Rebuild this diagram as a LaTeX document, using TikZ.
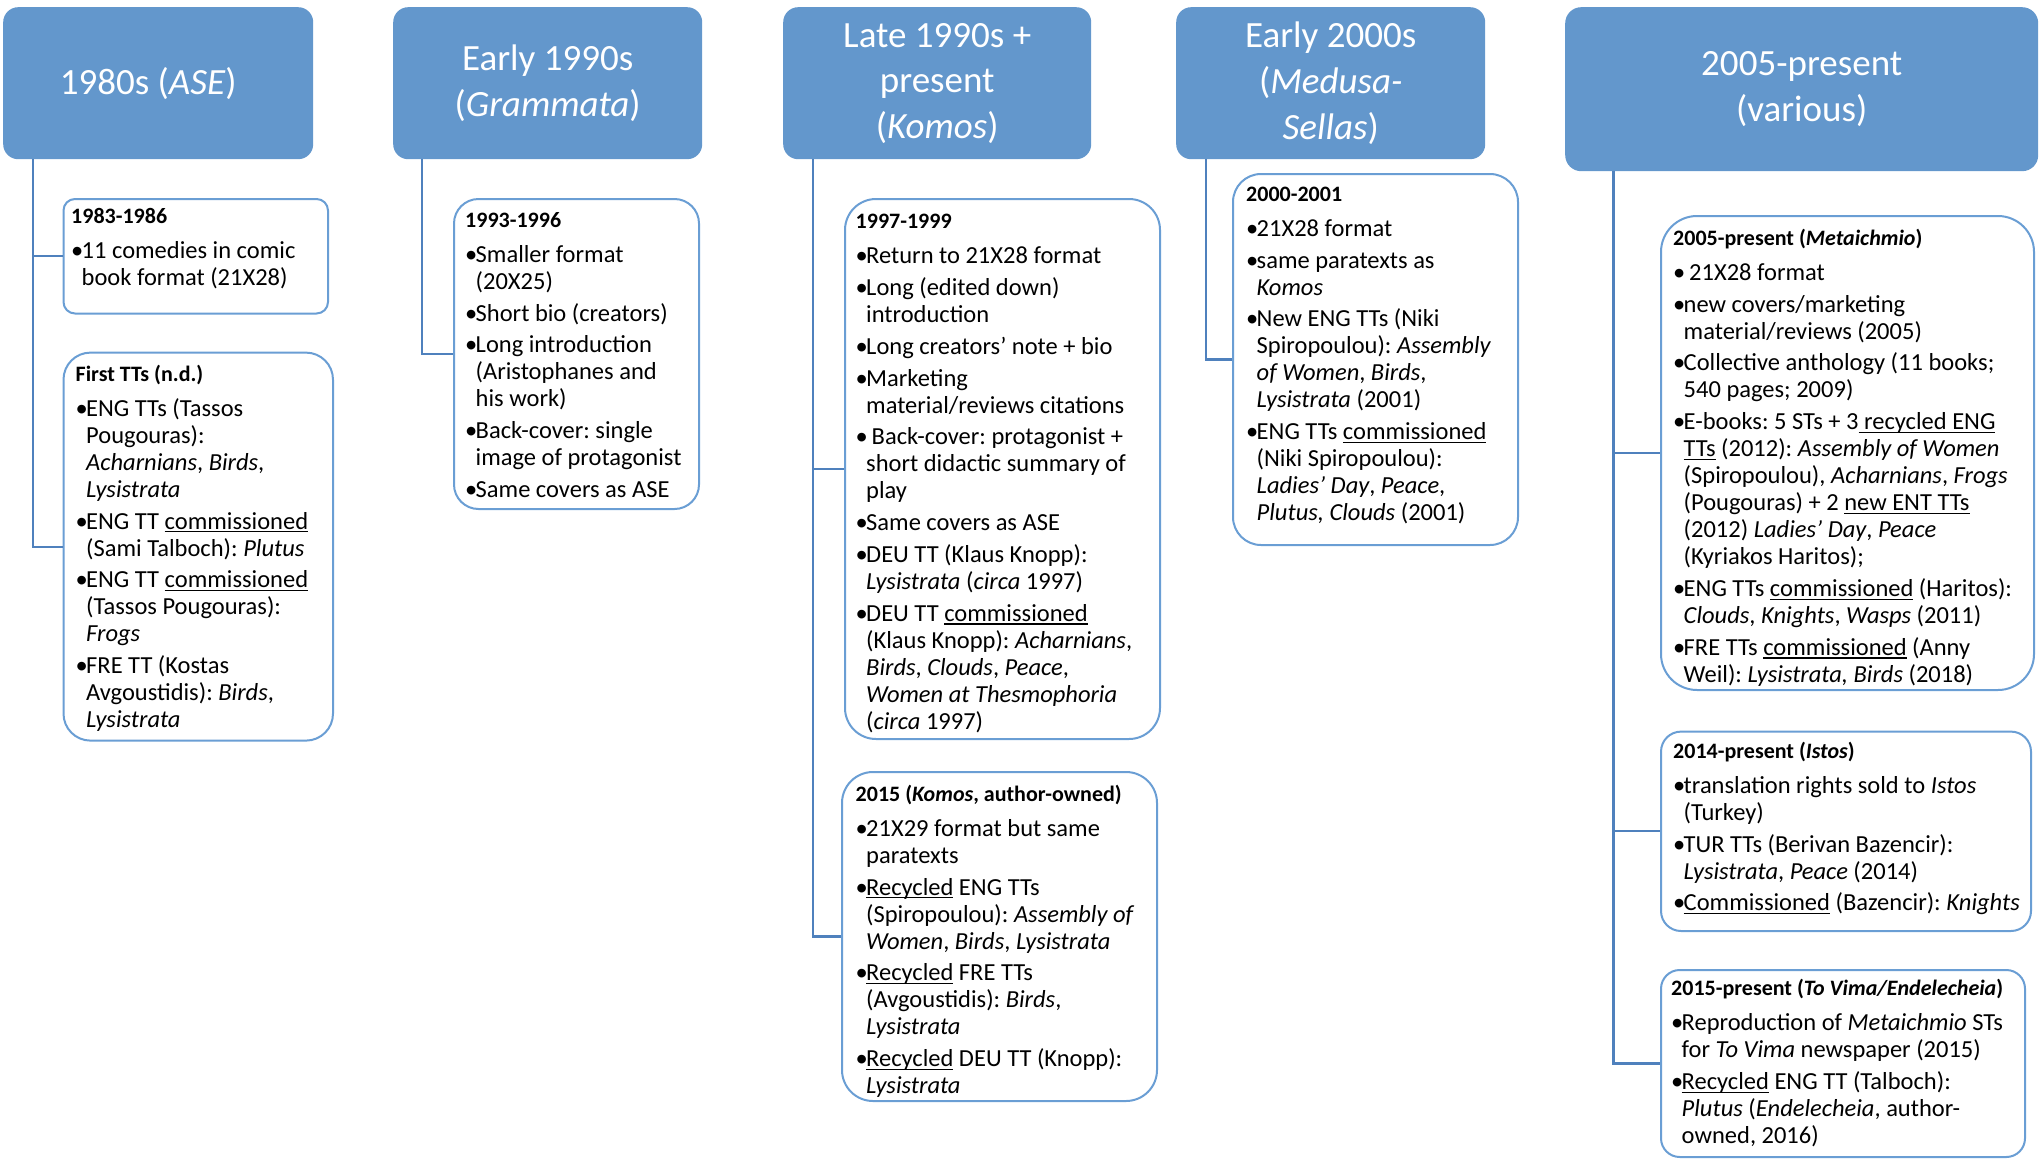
\documentclass[tikz,border=0pt]{standalone}
\usepackage{fontspec}
\setmainfont{Carlito}
\frenchspacing
\definecolor{hdr}{RGB}{99,151,204}
\definecolor{bord}{RGB}{106,158,212}
\definecolor{connc}{RGB}{79,129,189}
\newcommand\bu{\makebox[10.5pt][l]{•}}
\newcommand\ind{\hspace*{10.5pt}}
\newcommand\undl[1]{\setbox0=\hbox{#1}\rlap{\rule[-3.4pt]{\wd0}{1.3pt}}\box0\relax}
\newcommand\hd[1]{\rule{0pt}{20pt}{\fontsize{22}{27}\selectfont\bfseries #1}}
\tikzset{
  hdrbox/.style={rectangle, fill=hdr, text=white, font=\fontsize{37}{45.6}\selectfont\frenchspacing, align=center, inner sep=0pt, anchor=north west},
  infobox/.style={rectangle, draw=bord, line width=2pt, fill=white, inner sep=0pt, anchor=north west},
  infotext/.style={anchor=north west, inner sep=0pt, align=left, font=\fontsize{24.5}{27}\selectfont\frenchspacing, text=black},
  connline/.style={draw=connc, line width=2.2pt}
}
\begin{document}
\begin{tikzpicture}[x=1pt,y=-1pt]
\useasboundingbox (0,0) rectangle (2042,1159);
% headers
\node[hdrbox, rounded corners=15pt, minimum width=310pt, minimum height=152pt] (H1) at (3,7) {\hspace*{-20pt}1980s (\textit{ASE})};
\node[hdrbox, rounded corners=15pt, minimum width=309pt, minimum height=152pt] (H2) at (393,7) {Early 1990s\\(\textit{Grammata})};
\node[hdrbox, rounded corners=15pt, minimum width=308pt, minimum height=152pt] (H3) at (783,7) {Late 1990s +\\present\\(\textit{Komos})};
\node[hdrbox, rounded corners=15pt, minimum width=309pt, minimum height=152pt] (H4) at (1176,7) {Early 2000s\\(\textit{Medusa-}\\\textit{Sellas})};
\node[hdrbox, rounded corners=16pt, minimum width=473pt, minimum height=164pt] (H5) at (1565,7) {2005-present\\(various)};

% boxes
\node[infobox, rounded corners=11.5pt, minimum width=264.5pt, minimum height=114.5pt] (A1) at (62.5,198) {};
\node[infobox, rounded corners=27pt, minimum width=269.5pt, minimum height=388pt] (A2) at (62.5,351.6) {};
\node[infobox, rounded corners=24.5pt, minimum width=245pt, minimum height=310pt] (B1) at (453,198) {};
\node[infobox, rounded corners=31pt, minimum width=315pt, minimum height=540pt] (C1) at (844,198) {};
\node[infobox, rounded corners=31pt, minimum width=315pt, minimum height=329pt] (C2) at (841,771) {};
\node[infobox, rounded corners=28pt, minimum width=285pt, minimum height=371pt] (D1) at (1232,173) {};
\node[infobox, rounded corners=36pt, minimum width=373pt, minimum height=474pt] (E1) at (1660,215) {};
\node[infobox, rounded corners=20pt, minimum width=370pt, minimum height=199.4pt] (E2) at (1660,730.6) {};
\node[infobox, rounded corners=18.7pt, minimum width=364pt, minimum height=187pt] (E3) at (1660,969) {};

% connectors
\draw[connline] ([xshift=29.6pt]H1.south west) |- (A1.west);
\draw[connline] ([xshift=29.6pt]H1.south west) |- (A2.west);
\draw[connline] ([xshift=29pt]H2.south west) |- (B1.west);
\draw[connline] ([xshift=29.6pt]H3.south west) |- (C1.west);
\draw[connline] ([xshift=29.6pt]H3.south west) |- (C2.west);
\draw[connline] ([xshift=30pt]H4.south west) |- (D1.west);
\draw[connline] ([xshift=48.5pt]H5.south west) |- (E1.west);
\draw[connline] ([xshift=48.5pt]H5.south west) |- (E2.west);
\draw[connline] ([xshift=48.5pt]H5.south west) |- (E3.west);

% texts
\node[infotext] (A1t) at (71,203) {\hd{1983-1986}\\[8pt]
\bu 11 comedies in comic\\
\ind book format (21X28)};

\node[infotext] (A2t) at (75.5,361) {\hd{First TTs (n.d.)}\\[8pt]
\bu ENG TTs (Tassos\\
\ind Pougouras):\\
\ind\textit{Acharnians}, \textit{Birds},\\
\ind\textit{Lysistrata}\\[4.8pt]
\bu ENG TT \undl{commissioned}\\
\ind (Sami Talboch): \textit{Plutus}\\[4.8pt]
\bu ENG TT \undl{commissioned}\\
\ind (Tassos Pougouras):\\
\ind\textit{Frogs}\\[4.8pt]
\bu FRE TT (Kostas\\
\ind Avgoustidis): \textit{Birds},\\
\ind\textit{Lysistrata}};

\node[infotext] (B1t) at (465,207) {\hd{1993-1996}\\[8pt]
\bu Smaller format\\
\ind (20X25)\\[4.8pt]
\bu Short bio (creators)\\[4.8pt]
\bu Long introduction\\
\ind (Aristophanes and\\
\ind his work)\\[4.8pt]
\bu Back-cover: single\\
\ind image of protagonist\\[4.8pt]
\bu Same covers as ASE};

\node[infotext] (C1t) at (855.5,208.5) {\hd{1997-1999}\\[8pt]
\bu Return to 21X28 format\\[4.8pt]
\bu Long (edited down)\\
\ind introduction\\[4.8pt]
\bu Long creators’ note + bio\\[4.8pt]
\bu Marketing\\
\ind material/reviews citations\\[4.8pt]
\bu{} Back-cover: protagonist +\\
\ind short didactic summary of\\
\ind play\\[4.8pt]
\bu Same covers as ASE\\[4.8pt]
\bu DEU TT (Klaus Knopp):\\
\ind\textit{Lysistrata} (\textit{circa} 1997)\\[4.8pt]
\bu DEU TT \undl{commissioned}\\
\ind (Klaus Knopp): \textit{Acharnians},\\
\ind\textit{Birds}, \textit{Clouds}, \textit{Peace},\\
\ind\textit{Women at Thesmophoria}\\
\ind (\textit{circa} 1997)};

\node[infotext] (C2t) at (855.5,781) {\hd{2015 (\textit{Komos}, author-owned)}\\[8pt]
\bu 21X29 format but same\\
\ind paratexts\\[4.8pt]
\bu\undl{Recycled} ENG TTs\\
\ind (Spiropoulou): \textit{Assembly of}\\
\ind\textit{Women}, \textit{Birds}, \textit{Lysistrata}\\[4.8pt]
\bu\undl{Recycled} FRE TTs\\
\ind (Avgoustidis): \textit{Birds},\\
\ind\textit{Lysistrata}\\[4.8pt]
\bu\undl{Recycled} DEU TT (Knopp):\\
\ind\textit{Lysistrata}};

\node[infotext] (D1t) at (1246,181) {\hd{2000-2001}\\[8pt]
\bu 21X28 format\\[4.8pt]
\bu same paratexts as\\
\ind\textit{Komos}\\[4.8pt]
\bu New ENG TTs (Niki\\
\ind Spiropoulou): \textit{Assembly}\\
\ind\textit{of Women}, \textit{Birds},\\
\ind\textit{Lysistrata} (2001)\\[4.8pt]
\bu ENG TTs \undl{commissioned}\\
\ind (Niki Spiropoulou):\\
\ind\textit{Ladies’ Day}, \textit{Peace},\\
\ind\textit{Plutus, Clouds} (2001)};

\node[infotext] (E1t) at (1673,225) {\hd{2005-present (\textit{Metaichmio})}\\[8pt]
\bu{} 21X28 format\\[4.8pt]
\bu new covers/marketing\\
\ind material/reviews (2005)\\[4.8pt]
\bu Collective anthology (11 books;\\
\ind 540 pages; 2009)\\[4.8pt]
\bu E-books: 5 STs + 3\undl{\ recycled ENG}\\
\ind\undl{TTs} (2012): \textit{Assembly of Women}\\
\ind (Spiropoulou), \textit{Acharnians}, \textit{Frogs}\\
\ind (Pougouras) + 2 \undl{new ENT TTs}\\
\ind (2012) \textit{Ladies’ Day}, \textit{Peace}\\
\ind (Kyriakos Haritos);\\[4.8pt]
\bu ENG TTs \undl{commissioned} (Haritos):\\
\ind\textit{Clouds}, \textit{Knights}, \textit{Wasps} (2011)\\[4.8pt]
\bu FRE TTs \undl{commissioned} (Anny\\
\ind Weil): \textit{Lysistrata, Birds} (2018)};

\node[infotext] (E2t) at (1673,738) {\hd{2014-present (\textit{Istos})}\\[8pt]
\bu translation rights sold to \textit{Istos}\\
\ind (Turkey)\\[4.8pt]
\bu TUR TTs (Berivan Bazencir):\\
\ind\textit{Lysistrata}, \textit{Peace} (2014)\\[4.8pt]
\bu\undl{Commissioned} (Bazencir): \textit{Knights}};

\node[infotext] (E3t) at (1671,975.5) {\hd{2015-present (\textit{To Vima/Endelecheia})}\\[8pt]
\bu Reproduction of \textit{Metaichmio} STs\\
\ind for \textit{To Vima} newspaper (2015)\\[4.8pt]
\bu\undl{Recycled} ENG TT (Talboch):\\
\ind\textit{Plutus} (\textit{Endelecheia}, author-\\
\ind owned, 2016)};
\end{tikzpicture}
\end{document}
